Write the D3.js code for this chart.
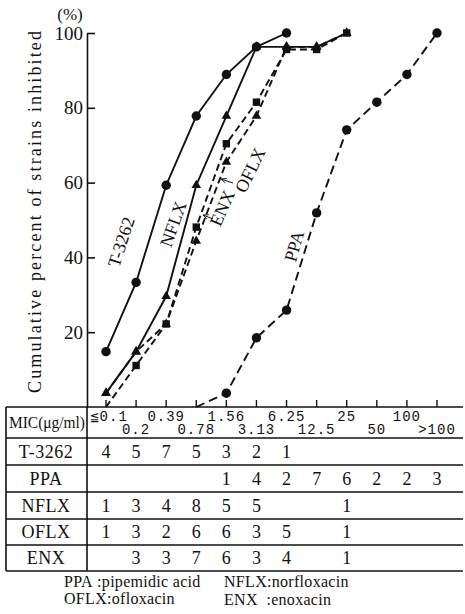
<!DOCTYPE html>
<html>
<head>
<meta charset="utf-8">
<script src="https://cdn.jsdelivr.net/npm/d3@7"></script>
<style>
body { margin: 0; background: #fff; }
svg text { font-family: "Liberation Serif", "Times New Roman", Times, serif; fill: #111; }
svg text.mono { font-family: "Liberation Mono", "DejaVu Sans Mono", monospace; }
</style>
</head>
<body>
<script>
var width = 465,
    height = 614;

// MIC categories (x axis / table columns)
var categories = ["≦0.1", "0.2", "0.39", "0.78", "1.56", "3.13", "6.25", "12.5", "25", "50", "100", ">100"];
var yTicks = [20, 40, 60, 80, 100];

// number of strains per MIC (table rows), null = blank
var tableRows = ["T-3262", "PPA", "NFLX", "OFLX", "ENX"];
var countsT3262 = [4, 5, 7, 5, 3, 2, 1, null, null, null, null, null];
var countsPPA   = [null, null, null, null, 1, 4, 2, 7, 6, 2, 2, 3];
var countsNFLX  = [1, 3, 4, 8, 5, 5, null, null, 1, null, null, null];
var countsOFLX  = [1, 3, 2, 6, 6, 3, 5, null, 1, null, null, null];
var countsENX   = [null, 3, 3, 7, 6, 3, 4, null, 1, null, null, null];

// cumulative percent
var cumT3262 = [[0, 14.8], [1, 33.3], [2, 59.3], [3, 77.8], [4, 88.9], [5, 96.3], [6, 100]];
var cumNFLX  = [[0, 3.7], [1, 14.8], [2, 29.6], [3, 59.3], [4, 77.8], [5, 96.3], [6, 96.3], [7, 96.3], [8, 100]];
var cumOFLX  = [[0, 3.7], [1, 14.8], [2, 22.2], [3, 44.4], [4, 65.5], [5, 77.8], [6, 96.3], [7, 96.3], [8, 100]];
var cumENX   = [[0, 0], [1, 11.1], [2, 22.2], [3, 48.1], [4, 70.4], [5, 81.5], [6, 95.6], [7, 95.6], [8, 100]];
var cumPPA   = [[3, 0], [4, 3.7], [5, 18.5], [6, 25.9], [7, 51.9], [8, 74.1], [9, 81.5], [10, 88.9], [11, 100]];

var svg = d3.select("body").append("svg")
    .attr("width", width)
    .attr("height", height);

var x = d3.scalePoint()
    .domain(d3.range(categories.length))
    .range([106, 437]);

var y = d3.scaleLinear()
    .domain([0, 100])
    .range([407, 33]);

// y axis, ticks pointing inward
svg.append("g")
    .attr("transform", "translate(87,0)")
    .call(d3.axisLeft(y).tickValues(yTicks).tickSizeInner(-8).tickSizeOuter(0).tickPadding(4))
    .call(function(g) {
        g.attr("font-family", null);
        g.select(".domain").attr("stroke-width", 1.6).attr("stroke", "#111");
        g.selectAll(".tick line").attr("stroke-width", 1.6).attr("stroke", "#111");
        g.selectAll(".tick text").attr("font-size", 19).attr("fill", "#111");
    });

svg.append("text")
    .attr("x", 70).attr("y", 20)
    .attr("text-anchor", "middle")
    .attr("font-size", 17)
    .text("(%)");

svg.append("text")
    .attr("transform", "translate(41,212) rotate(-90)")
    .attr("text-anchor", "middle")
    .attr("font-size", 18)
    .attr("textLength", 362)
    .attr("lengthAdjust", "spacing")
    .text("Cumulative percent of strains inhibited");

// x ticks pointing up
svg.append("g").selectAll("line")
    .data(d3.range(categories.length))
    .enter().append("line")
    .attr("x1", function(d) { return x(d); })
    .attr("x2", function(d) { return x(d); })
    .attr("y1", 407).attr("y2", 400)
    .attr("stroke", "#111").attr("stroke-width", 1.4);

// curves
var line = d3.line()
    .x(function(d) { return x(d[0]); })
    .y(function(d) { return y(d[1]); });

var series = [
    {name: "T-3262", data: cumT3262, dash: null, mark: "circle"},
    {name: "NFLX", data: cumNFLX, dash: null, mark: "triangle"},
    {name: "OFLX", data: cumOFLX, dash: "7,4", mark: "triangle"},
    {name: "ENX", data: cumENX, dash: "7,4", mark: "square"},
    {name: "PPA", data: cumPPA, dash: "9,5", mark: "circle"}
];

var symbols = {
    circle: d3.symbol().type(d3.symbolCircle).size(70),
    triangle: d3.symbol().type(d3.symbolTriangle).size(40),
    square: d3.symbol().type(d3.symbolSquare).size(55)
};

series.forEach(function(s) {
    svg.append("path")
        .datum(s.data)
        .attr("d", line)
        .attr("fill", "none")
        .attr("stroke", "#111")
        .attr("stroke-width", 1.9)
        .attr("stroke-dasharray", s.dash);

    svg.append("g").selectAll("path")
        .data(s.data.filter(function(d) { return d[1] > 0; }))
        .enter().append("path")
        .attr("d", symbols[s.mark])
        .attr("transform", function(d) { return "translate(" + x(d[0]) + "," + y(d[1]) + ")"; })
        .attr("fill", "#111");
});

// curve labels
var labels = [
    {t: "T-3262", x: 121, y: 242, r: -72},
    {t: "NFLX", x: 173, y: 224, r: -70},
    {t: "ENX", x: 222, y: 208, r: -66},
    {t: "OFLX", x: 250, y: 170, r: -64},
    {t: "PPA", x: 294, y: 246, r: -74}
];
svg.append("g").selectAll("text")
    .data(labels)
    .enter().append("text")
    .attr("transform", function(d) { return "translate(" + d.x + "," + d.y + ") rotate(" + d.r + ")"; })
    .attr("text-anchor", "middle")
    .attr("dy", "0.35em")
    .attr("font-size", 18)
    .text(function(d) { return d.t; });

// little pointer arrows for OFLX and ENX
svg.append("defs").append("marker")
    .attr("id", "ah")
    .attr("viewBox", "0 0 10 10")
    .attr("refX", 9).attr("refY", 5)
    .attr("markerWidth", 6).attr("markerHeight", 6)
    .attr("orient", "auto")
    .append("path").attr("d", "M0,1L9,5L0,9").attr("fill", "none").attr("stroke", "#111").attr("stroke-width", 1.4);

[[233, 183, 221, 179], [213, 219, 203, 215]].forEach(function(a) {
    svg.append("line")
        .attr("x1", a[0]).attr("y1", a[1]).attr("x2", a[2]).attr("y2", a[3])
        .attr("stroke", "#111").attr("stroke-width", 1)
        .attr("marker-end", "url(#ah)");
});

// table
var rowLines = [407, 438, 465, 492, 519, 545, 571];
var table = svg.append("g");
table.selectAll("line.h")
    .data(rowLines)
    .enter().append("line")
    .attr("x1", 6).attr("x2", 463)
    .attr("y1", function(d) { return d; }).attr("y2", function(d) { return d; })
    .attr("stroke", "#111").attr("stroke-width", 1.6);
table.append("line").attr("x1", 6).attr("x2", 6).attr("y1", 407).attr("y2", 571).attr("stroke", "#111").attr("stroke-width", 1.6);
table.append("line").attr("x1", 87).attr("x2", 87).attr("y1", 407).attr("y2", 571).attr("stroke", "#111").attr("stroke-width", 1.6);

table.append("text")
    .attr("x", 9).attr("y", 428)
    .attr("font-size", 16)
    .attr("textLength", 76)
    .attr("lengthAdjust", "spacingAndGlyphs")
    .text("MIC(μg/ml)");

table.selectAll("text.cat")
    .data(categories)
    .enter().append("text")
    .attr("class", "mono")
    .attr("x", function(d, i) { return x(i) + (i === 0 ? 3 : 0); })
    .attr("y", function(d, i) { return i % 2 === 0 ? 421 : 434; })
    .attr("text-anchor", "middle")
    .attr("font-size", 14)
    .attr("letter-spacing", 1)
    .text(function(d) { return d; });

var counts = [countsT3262, countsPPA, countsNFLX, countsOFLX, countsENX];
tableRows.forEach(function(name, r) {
    var yc = (rowLines[r + 1] + rowLines[r + 2]) / 2 + 6;
    table.append("text")
        .attr("x", 46).attr("y", yc)
        .attr("text-anchor", "middle")
        .attr("font-size", 18)
        .attr("letter-spacing", 0.5)
        .text(name);
    var cells = counts[r]
        .map(function(v, i) { return {i: i, v: v}; })
        .filter(function(d) { return d.v !== null; });
    table.append("g").selectAll("text")
        .data(cells)
        .enter().append("text")
        .attr("x", function(d) { return x(d.i); })
        .attr("y", yc)
        .attr("text-anchor", "middle")
        .attr("font-size", 18)
        .text(function(d) { return d.v; });
});

// footnote
var notes = [
    {t: "PPA\u00a0:pipemidic acid", x: 64, y: 587},
    {t: "NFLX:norfloxacin", x: 224, y: 587},
    {t: "OFLX:ofloxacin", x: 64, y: 604},
    {t: "ENX\u00a0\u00a0:enoxacin", x: 224, y: 605}
];
svg.append("g").selectAll("text")
    .data(notes)
    .enter().append("text")
    .attr("x", function(d) { return d.x; })
    .attr("y", function(d) { return d.y; })
    .attr("font-size", 16)
    .attr("letter-spacing", 0.3)
    .text(function(d) { return d.t; });
</script>
</body>
</html>
